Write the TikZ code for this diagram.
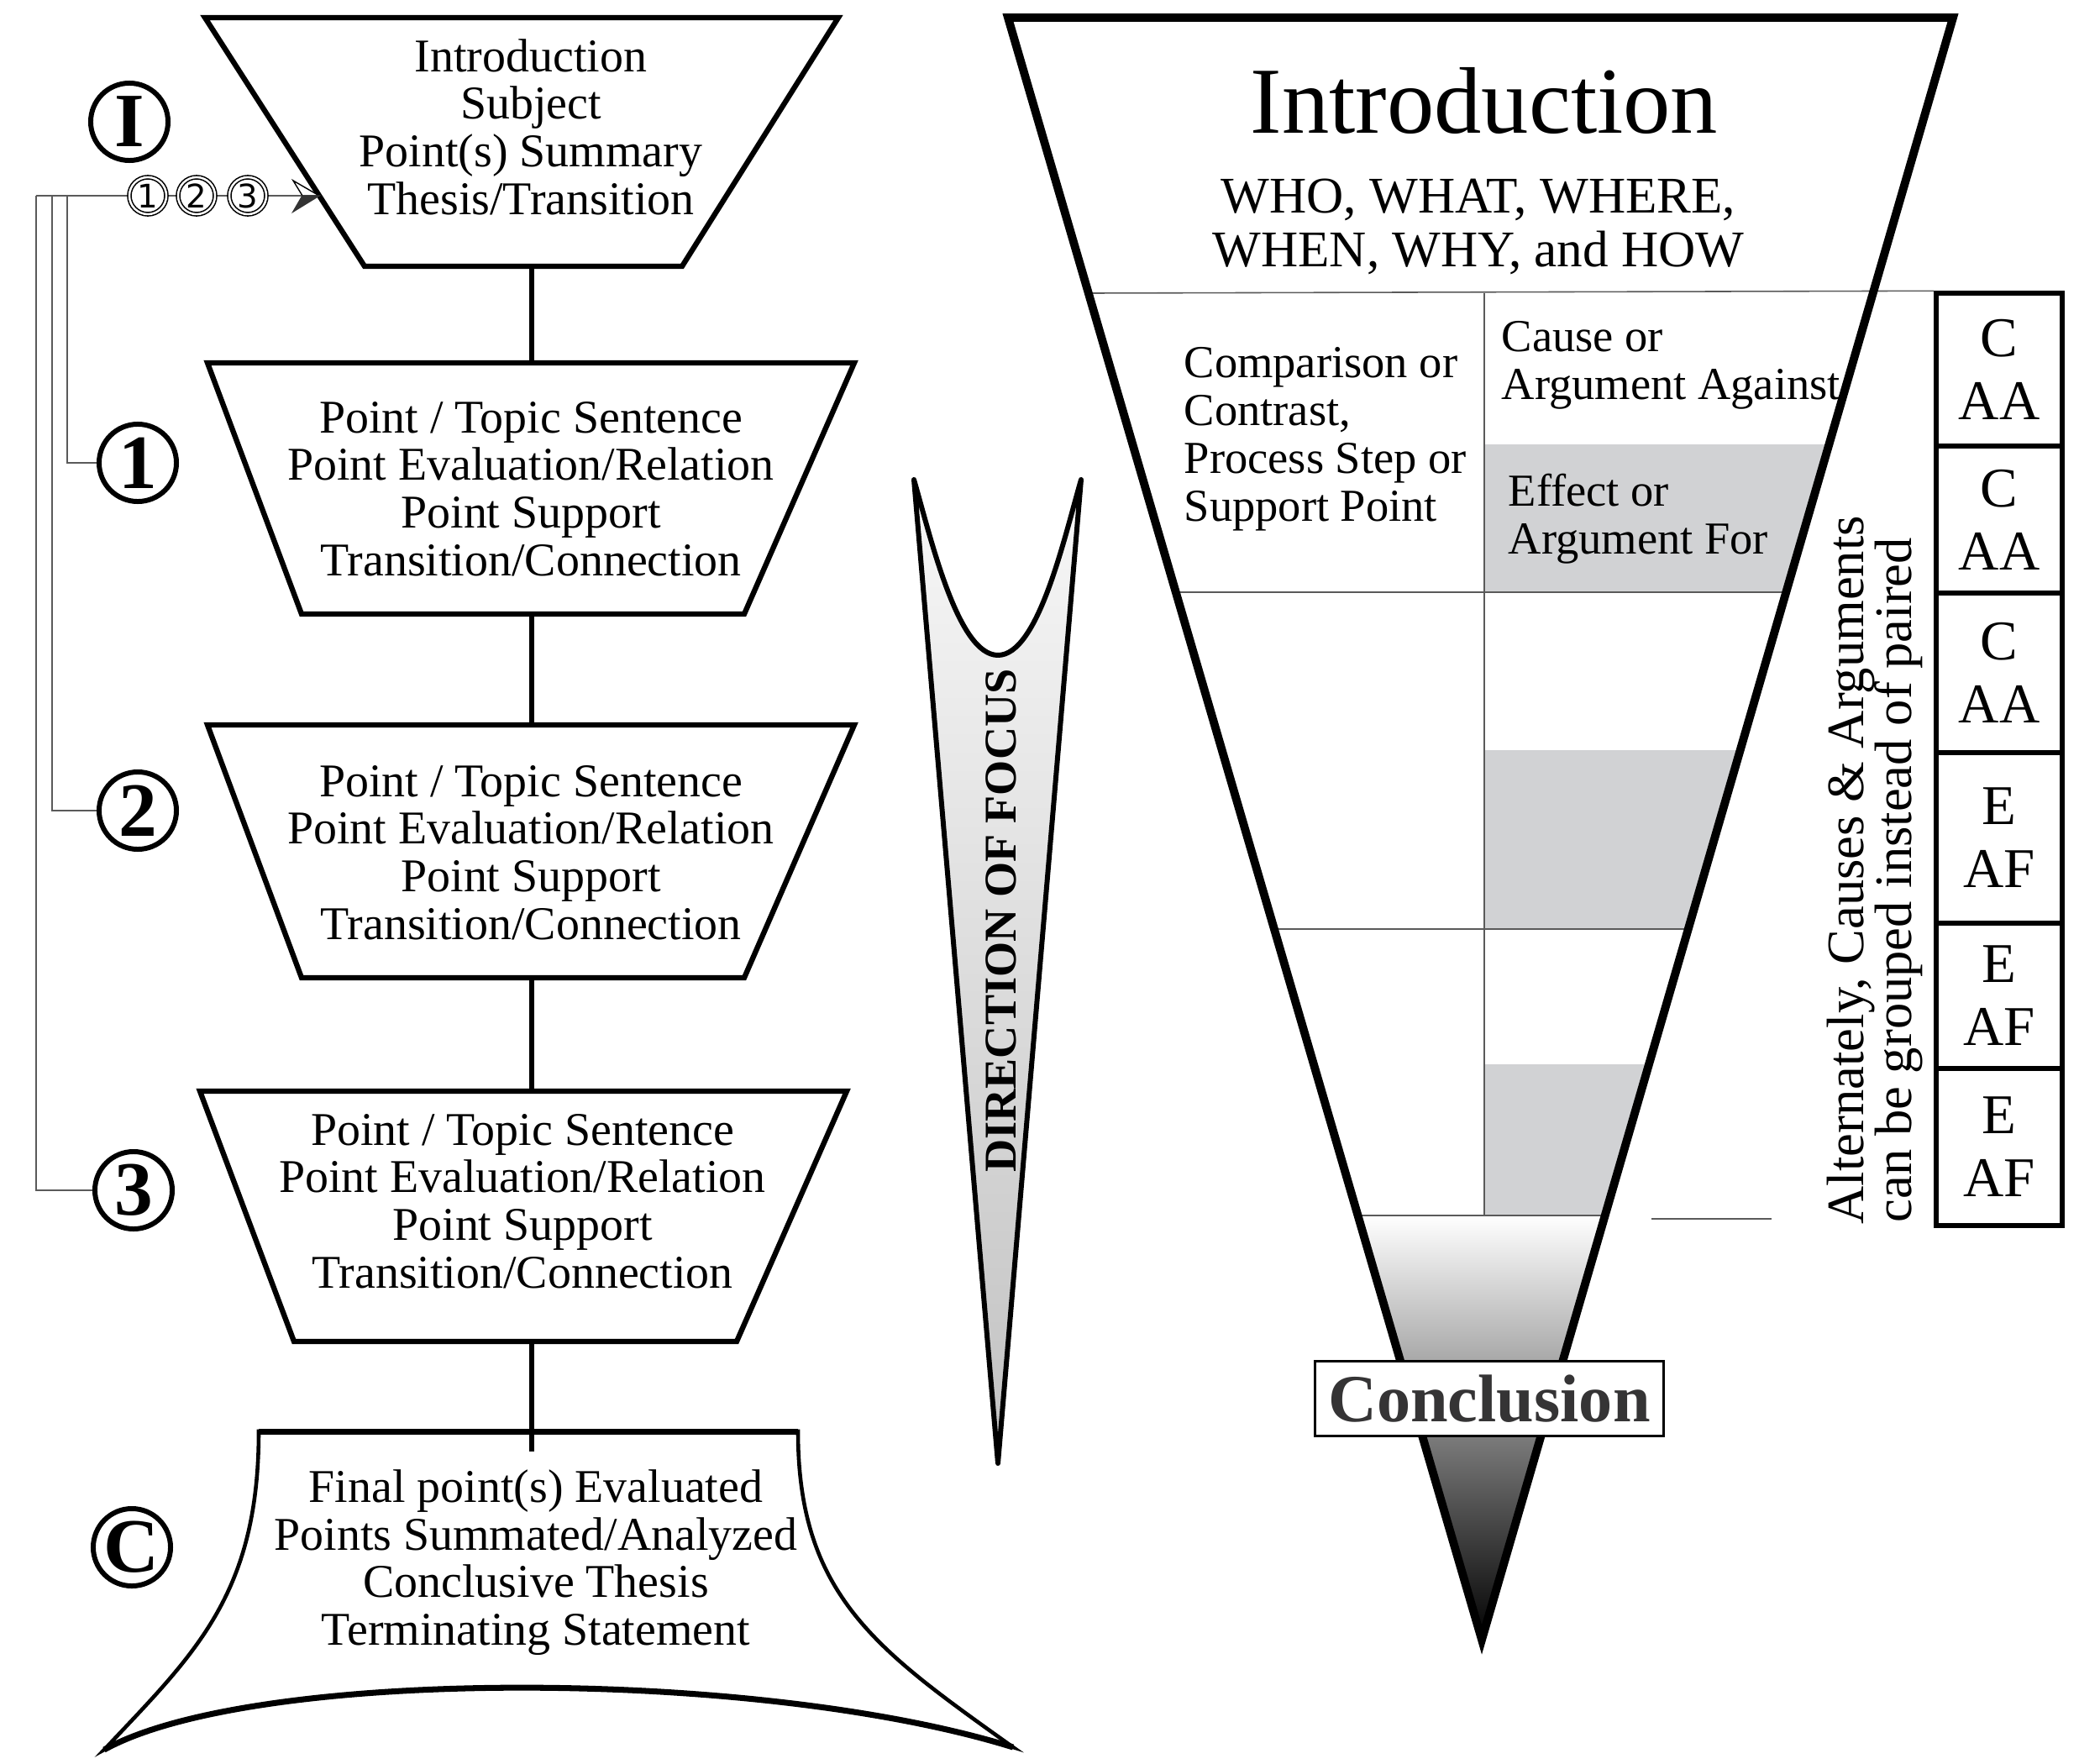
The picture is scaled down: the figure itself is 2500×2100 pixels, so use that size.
\documentclass[tikz,border=0pt]{standalone}
\usepackage{fontspec}
\setmainfont{Liberation Serif}
\newfontfamily\sansf{DejaVu Sans}
\usetikzlibrary{calc}
\definecolor{cellgray}{RGB}{209,210,212}
\definecolor{linegray}{RGB}{90,90,90}
\definecolor{concgray}{RGB}{53,52,53}
\tikzset{
  trap/.style={draw=black, line width=1.8pt, line join=miter, fill=white},
  link/.style={draw=black, line width=1.5pt},
  bracket/.style={draw=linegray, line width=0.45pt},
  gridline/.style={draw=linegray, line width=0.45pt},
  badge/.style={draw=black, circle, line width=1.7pt, minimum size=0.92cm, inner sep=0pt, fill=white, font=\bfseries\fontsize{26}{26}\selectfont},
  mini/.style={circle, draw=black, double=white, double distance=0.7pt, line width=0.45pt, minimum size=0.44cm, inner sep=0pt, fill=white, font=\sansf\fontsize{11}{11}\selectfont},
  leftText/.style={align=center, inner sep=0pt, font=\fontsize{15.9}{16.1}\selectfont},
  cellText/.style={align=left, inner sep=0pt, anchor=west, font=\fontsize{15.5}{16.2}\selectfont},
  sideBox/.style={draw=black, line width=1.5pt, minimum width=1.5cm, inner sep=0pt, align=center, font=\fontsize{19}{21.3}\selectfont},
  sideNote/.style={rotate=90, anchor=base west, inner sep=0pt, font=\fontsize{17.8}{17.8}\selectfont},
}
\begin{document}
\begin{tikzpicture}[x=0.01cm, y=-0.01cm]
\fill[white] (0,0) rectangle (2500,2100);
\useasboundingbox (0,0) rectangle (2500,2100);

% ---------------- left column: shapes
\draw[trap] (244,21) -- (998,21) -- (812,317) -- (434,317) -- cycle;
\draw[trap] (247,432) -- (1017,432) -- (886,731) -- (359,731) -- cycle;
\draw[trap] (247,863) -- (1017,863) -- (886,1164) -- (359,1164) -- cycle;
\draw[trap] (238,1299) -- (1008,1299) -- (877,1597) -- (350,1597) -- cycle;
% conclusion (flared) shape
\draw[trap, line width=1.3pt] (308,1704) -- (950,1704)
  .. controls (950,1900) and (1045,1965) .. (1206,2080)
  .. controls (900,1985) and (300,1985) .. (124,2083)
  .. controls (230,1970) and (308,1900) .. (308,1704) -- cycle;
\draw[line width=2pt] (308,1704) -- (950,1704);
\draw[line width=2pt] (1206,2080) .. controls (900,1985) and (300,1985) .. (124,2083);

% connectors between the shapes
\coordinate (i0b) at (633,317);
\coordinate (t1t) at (633,432);
\coordinate (t1b) at (633,731);
\coordinate (t2t) at (633,863);
\coordinate (t2b) at (633,1164);
\coordinate (t3t) at (633,1299);
\coordinate (t3b) at (633,1597);
\coordinate (ct) at (633,1728);
\draw[link] (i0b) -- (t1t);
\draw[link] (t1b) -- (t2t);
\draw[link] (t2b) -- (t3t);
\draw[link] (t3b) -- (ct);

% texts in the left shapes
\node[leftText] (introL) at (632,151) {Introduction\\Subject\\Point(s) Summary\\Thesis/Transition};
\node[leftText] (p1) at (632,582) {Point / Topic Sentence\\Point Evaluation/Relation\\Point Support\\Transition/Connection};
\node[leftText] (p2) at (632,1015) {Point / Topic Sentence\\Point Evaluation/Relation\\Point Support\\Transition/Connection};
\node[leftText] (p3) at (622,1430) {Point / Topic Sentence\\Point Evaluation/Relation\\Point Support\\Transition/Connection};
\node[leftText] (pc) at (638,1860) {Final point(s) Evaluated\\Points Summated/Analyzed\\Conclusive Thesis\\Terminating Statement};

% badges
\node[badge] (bI) at (154,145) {I};
\node[badge] (b1) at (164,551) {1};
\node[badge] (b2) at (164,965) {2};
\node[badge] (b3) at (159,1417) {3};
\node[badge] (bC) at (157,1842) {C};

% bracket lines
\coordinate (j1) at (80,233);
\coordinate (j2) at (62,233);
\coordinate (j3) at (43,233);
\coordinate (arrowTip) at (380,233);
\coordinate (aNotch) at (360,233);
\coordinate (aTop) at (349,215);
\coordinate (aBot) at (349,252);
\draw[bracket] (b1.west) -| (j1);
\draw[bracket] (b2.west) -| (j2);
\draw[bracket] (b3.west) -| (j3);
\draw[bracket] (j3) -- (aNotch);
\node[mini] (m1) at (176,233) {1};
\node[mini] (m2) at (234,233) {2};
\node[mini] (m3) at (295,233) {3};
\filldraw[fill=white, draw=black, line width=0.4pt] (arrowTip) -- (aTop) -- (aNotch) -- cycle;
\filldraw[fill=black!80, draw=black!80, line width=0.4pt] (arrowTip) -- (aNotch) -- (aBot) -- cycle;

% ---------------- middle banner
\shadedraw[top color=black!3, bottom color=black!24, line width=1.7pt, line join=round]
  (1088,571) .. controls (1108,640) and (1140,780) .. (1188,780)
  .. controls (1236,780) and (1267,640) .. (1287,571) -- (1188,1742) -- cycle;
\node[rotate=90, inner sep=0pt, font=\bfseries\fontsize{15.4}{15.4}\selectfont] (focus) at (1192,1096) {DIRECTION OF FOCUS};

% ---------------- right side boxes
\node[sideBox, minimum height=1.82cm] (c1) at (2380,440) {C\\AA};
\node[sideBox, minimum height=1.75cm] (c2) at (2380,618.5) {C\\AA};
\node[sideBox, minimum height=1.90cm] (c3) at (2380,801) {C\\AA};
\node[sideBox, minimum height=2.03cm] (c4) at (2380,997.5) {E\\AF};
\node[sideBox, minimum height=1.73cm] (c5) at (2380,1185.5) {E\\AF};
\node[sideBox, minimum height=1.87cm] (c6) at (2380,1365.5) {E\\AF};

\node[sideNote] (alt1) at (2218,1458) {Alternately, Causes \& Arguments};
\node[sideNote] (alt2) at (2275,1456) {can be grouped instead of paired};

% ---------------- funnel
\coordinate (vL) at (1200,21);
\coordinate (vR) at (2325,21);
\coordinate (vT) at (1764,1952);
\begin{scope}
  \clip (vL) -- (vR) -- (vT) -- cycle;
  \fill[cellgray] (1768,529) rectangle (2400,705);
  \fill[cellgray] (1768,893) rectangle (2400,1105);
  \fill[cellgray] (1768,1267) rectangle (2400,1447);
  \shade[top color=white, bottom color=black] (1150,1447) rectangle (2400,1955);
  \draw[gridline] (1150,705) -- (2400,705);
  \draw[gridline] (1150,1106) -- (2400,1106);
  \draw[gridline] (1150,1447) -- (2400,1447);
  \draw[gridline] (1767,349) -- (1767,1447);
\end{scope}
\coordinate (gL) at (1299,349);
\draw[gridline] (gL) -- (c1.north west);
\coordinate (o1) at (1966,1451);
\coordinate (o2) at (2109,1451);
\draw[gridline] (o1) -- (o2);
\draw[line width=2.8pt, line join=miter] (vL) -- (vR) -- (vT) -- cycle;

\node[font=\fontsize{32}{32}\selectfont, inner sep=0pt] (bigIntro) at (1767,120) {Introduction};
\node[align=center, inner sep=0pt, font=\fontsize{17.4}{18.2}\selectfont] (who) at (1760,270) {WHO, WHAT, WHERE,\\WHEN, WHY, and HOW};
\node[cellText] (compare) at (1409,523) {Comparison or\\Contrast,\\Process Step or\\Support Point};
\node[cellText] (cause) at (1787,435) {Cause or\\Argument Against};
\node[cellText] (effect) at (1795,618) {Effect or\\Argument For};

\node[draw=black, fill=white, line width=0.9pt, minimum width=4.15cm, minimum height=0.89cm, inner sep=0pt, text=concgray, font=\bfseries\fontsize{22.8}{22.8}\selectfont] (concl) at (1773,1665) {Conclusion};
\end{tikzpicture}
\end{document}
